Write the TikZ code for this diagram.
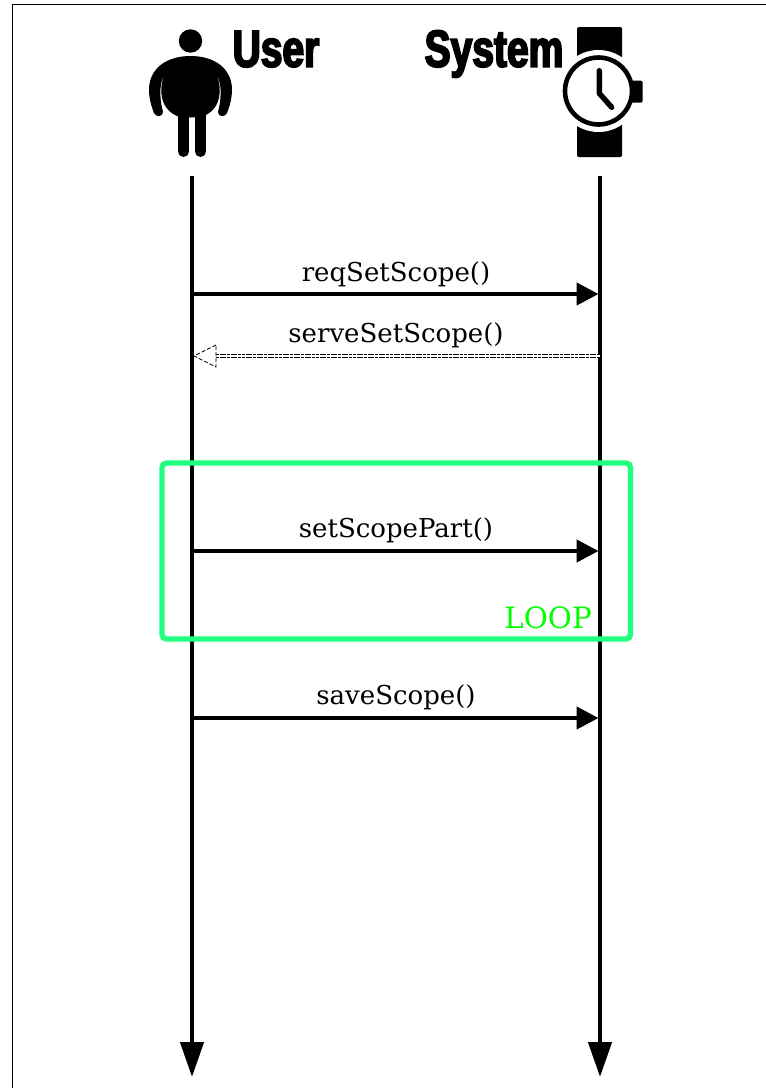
\documentclass[tikz,border=0pt]{standalone}
\usepackage{fontspec}
\setmainfont{DejaVu Serif}
\newfontfamily\headfont[FakeBold=3.5,FakeStretch=0.75]{Liberation Sans Bold}
\usetikzlibrary{arrows.meta}

\definecolor{loopgreen}{RGB}{32,255,128}
\definecolor{looptext}{RGB}{0,255,0}

\tikzset{
  lifeline/.style={line width=4.6pt, -{Triangle[length=35pt,width=23pt]}},
  msgarrow/.style={line width=4.4pt, -{Triangle[length=22pt,width=22pt]}, shorten >=1.5pt},
  msglabel/.style={font=\fontsize{26}{28}\selectfont, inner sep=0pt, anchor=base},
  actorlabel/.style={font=\fontsize{52}{54}\headfont, inner sep=0pt, anchor=base},
  limb/.style={line width=11pt, line cap=round},
  loopbox/.style={draw=loopgreen, line width=5.4pt, rounded corners=4.5pt},
}

\begin{document}
\begin{tikzpicture}[x=1pt,y=-1pt]
\useasboundingbox (0,0) rectangle (766,1088);

% frame
\draw[line width=1pt] (12,1088) -- (12,4.5) -- (766,4.5);

% user icon
\fill (190.5,41) circle (11.7);
\fill (190.5,56) .. controls (214,56) and (232,68) .. (232,90)
  .. controls (232,99) and (229,108) .. (227,113)
  .. controls (225,117.5) and (218,117) .. (218,112)
  .. controls (220.5,103) and (223,85) .. (216.7,75)
  .. controls (222,88) and (222,108) .. (204,116)
  .. controls (198,118) and (183,118) .. (177,116)
  .. controls (159,108) and (159,88) .. (164.3,75)
  .. controls (158,85) and (160.5,103) .. (163,112)
  .. controls (163,117) and (156,117.5) .. (154,113)
  .. controls (152,108) and (149,99) .. (149,90)
  .. controls (149,68) and (167,56) .. (190.5,56) -- cycle;
\draw[limb] (183.5,110) -- (183.5,151.5);
\draw[limb] (200.5,110) -- (200.5,151.5);

% system icon
\fill[rounded corners=1.5pt] (577,27) rectangle (622,157);
\fill[white] (598.5,91) circle (41);
\fill[rounded corners=2pt] (625,80.7) rectangle (642.7,102.7);
\draw[line width=4.6pt, fill=white] (598.5,91) circle (33.5);
\draw[line width=5.4pt, line cap=round, line join=round] (599.3,70.7) -- (599.3,93.3) -- (611.7,107.3);

% actors
\node[actorlabel] (user) at (276,66.7) {User};
\node[actorlabel] (system) at (494,66.7) {System};

% lifelines
\coordinate (usertop) at (192,176);
\coordinate (userend) at (192,1077);
\coordinate (systop) at (600,176);
\coordinate (sysend) at (600,1077);
\draw[lifeline] (usertop) -- (userend);
\draw[lifeline] (systop) -- (sysend);

% messages
\coordinate (req1) at (192,294);
\coordinate (req2) at (600,294);
\draw[msgarrow] (req1) -- (req2);
\node[msglabel] (reqlabel) at (396,281) {reqSetScope()};

\coordinate (serve1) at (600,356);
\coordinate (serve2) at (194,356);
\coordinate (serve3) at (216,356);
\draw[line width=1.2pt, dash pattern=on 3pt off 0.7pt, double distance=1.8pt] (serve1) -- (serve3);
\draw[line width=0.8pt, dash pattern=on 4pt off 2pt, fill=white] (216,345) -- (serve2) -- (216,367) -- cycle;
\node[msglabel] (servelabel) at (396,342) {serveSetScope()};

\coordinate (part1) at (192,551);
\coordinate (part2) at (600,551);
\draw[msgarrow] (part1) -- (part2);
\node[msglabel] (partlabel) at (396,537) {setScopePart()};

\coordinate (save1) at (192,718);
\coordinate (save2) at (600,718);
\draw[msgarrow] (save1) -- (save2);
\node[msglabel] (savelabel) at (396,704) {saveScope()};

% loop
\node[loopbox, minimum width=468.5pt, minimum height=176pt, inner sep=0pt] (loop) at (396.25,551) {};
\node[font=\fontsize{29.4}{31}\selectfont, text=looptext, inner sep=0pt, anchor=base east] (looplabel) at (592,628) {LOOP};
\end{tikzpicture}
\end{document}
